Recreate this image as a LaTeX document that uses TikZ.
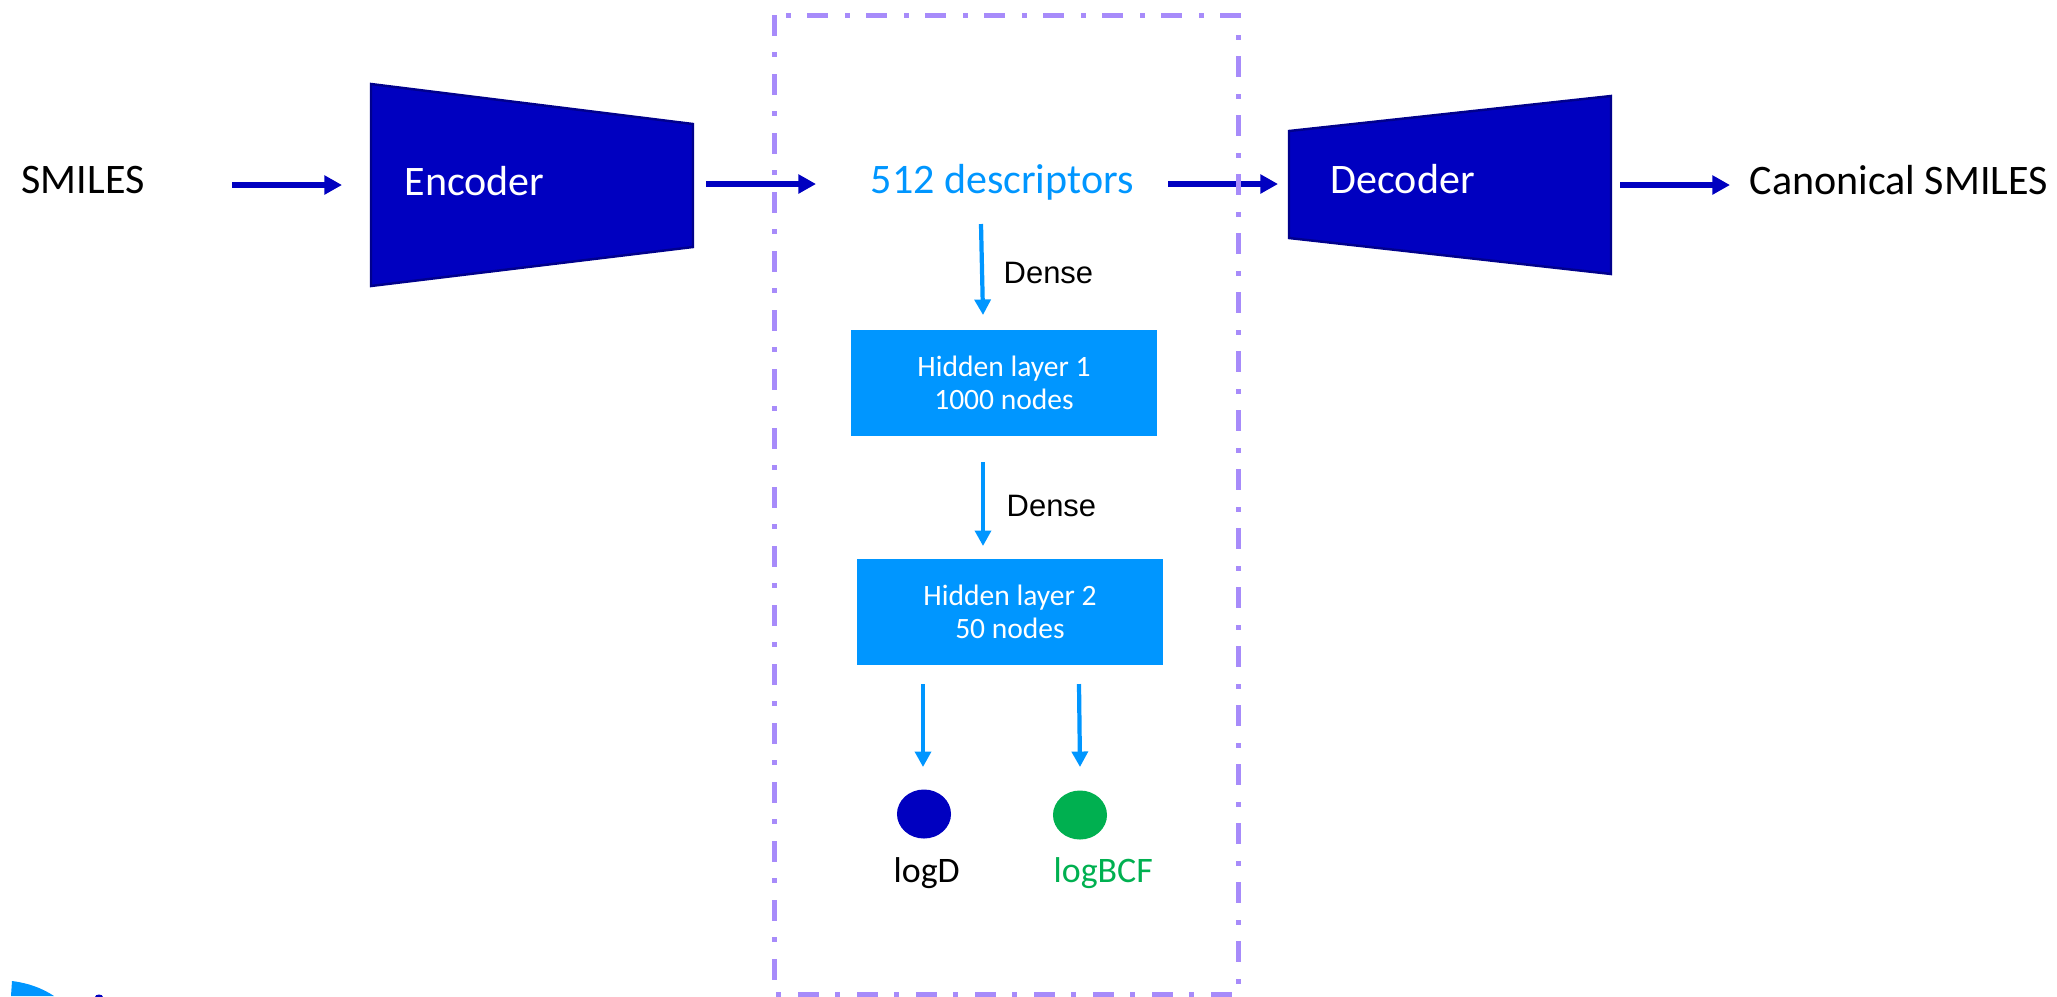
\documentclass[tikz,border=0pt]{standalone}
\usepackage{fontspec}
\setmainfont{Carlito}
\newfontfamily\arialfont{Liberation Sans}
\usetikzlibrary{arrows.meta,shapes.geometric}
\definecolor{navy}{RGB}{0,0,192}
\definecolor{navyedge}{RGB}{0,0,140}
\definecolor{skyb}{RGB}{0,150,255}
\definecolor{lav}{RGB}{167,139,250}
\definecolor{grn}{RGB}{0,176,80}
\begin{document}
\begin{tikzpicture}[x=0.01cm,y=-0.01cm,
  txt/.style={inner sep=0pt, anchor=base west, font=\fontsize{11.95}{14}\selectfont},
  bigarr/.style={draw=navy, line width=1.7pt, -{Triangle[length=5pt,width=5.2pt]}},
  smallarr/.style={draw=skyb, line width=1.2pt, -{Triangle[length=4.4pt,width=4.5pt]}},
  trap/.style={fill=navy, draw=navyedge, line width=0.7pt},
  hidden/.style={fill=skyb, text=white, minimum width=3.06cm, minimum height=1.06cm, inner sep=0pt, align=center, font=\fontsize{8.4}{9.4}\selectfont},
  dense/.style={inner sep=0pt, anchor=base west, font=\arialfont\fontsize{8.8}{10}\selectfont},
  outdot/.style={ellipse, inner sep=0pt, minimum width=0.54cm, minimum height=0.49cm},
  lbl/.style={inner sep=0pt, anchor=base west, font=\fontsize{10.2}{12}\selectfont},
  frame/.style={draw=lav, line width=1.42pt, dash pattern=on 5.97pt off 4.55pt on 1.42pt off 4.84pt}
]
\useasboundingbox (0,0) rectangle (2057,996);

% encoder / decoder shapes
\draw[trap] (371,84) -- (693,124) -- (693,247) -- (371,286) -- cycle;
\draw[trap] (1289,131) -- (1611,96) -- (1611,274) -- (1289,238) -- cycle;

% texts
\node[txt] (smiles) at (21,193) {SMILES};
\node[txt, text=white] (enc) at (404,195) {Encoder};
\node[txt, text=skyb] (desc) at (870,193) {512 descriptors};
\node[txt, text=white] (dec) at (1330,193) {Decoder};
\node[txt] (canon) at (1749,194) {Canonical SMILES};

% hidden layers
\node[hidden] (h1) at (1004,383) {Hidden layer 1\\1000 nodes};
\node[hidden] (h2) at (1010,612) {Hidden layer 2\\50 nodes};
\node[dense] (d1) at (1003,283) {Dense};
\node[dense] (d2) at (1006,516) {Dense};

% outputs
\node[outdot, fill=navy] (oD) at (924,814) {};
\node[outdot, fill=grn] (oB) at (1080,815) {};
\node[lbl] (lD) at (893,882) {logD};
\node[lbl, text=grn] (lB) at (1053,882) {logBCF};

% arrow end points
\coordinate (a1s) at (232,185); \coordinate (a1e) at (342,185);
\coordinate (a2s) at (706,184); \coordinate (a2e) at (816,184);
\coordinate (a3s) at (1168,184); \coordinate (a3e) at (1278,184);
\coordinate (a4s) at (1620,185); \coordinate (a4e) at (1730,185);
\coordinate (b1s) at (981,224); \coordinate (b1e) at (983,315);
\coordinate (b2s) at (983,462); \coordinate (b2e) at (983,546);
\coordinate (b3s) at (923,684); \coordinate (b3e) at (923,767);
\coordinate (b4s) at (1079,684); \coordinate (b4e) at (1080,767);

\draw[bigarr] (a1s) -- (a1e);
\draw[bigarr] (a2s) -- (a2e);
\draw[bigarr] (a3s) -- (a3e);
\draw[bigarr] (a4s) -- (a4e);
\draw[smallarr] (b1s) -- (b1e);
\draw[smallarr] (b2s) -- (b2e);
\draw[smallarr] (b3s) -- (b3e);
\draw[smallarr] (b4s) -- (b4e);

% dash-dot frame
\draw[frame] (774,15) rectangle (1238,994);

% cropped logo fragment, bottom left
\fill[skyb] (12,981) .. controls (28,983) and (42,988) .. (54,996) -- (11,996) -- cycle;
\fill[navy] (99,997) ellipse [x radius=4, y radius=2.5];
\end{tikzpicture}
\end{document}
